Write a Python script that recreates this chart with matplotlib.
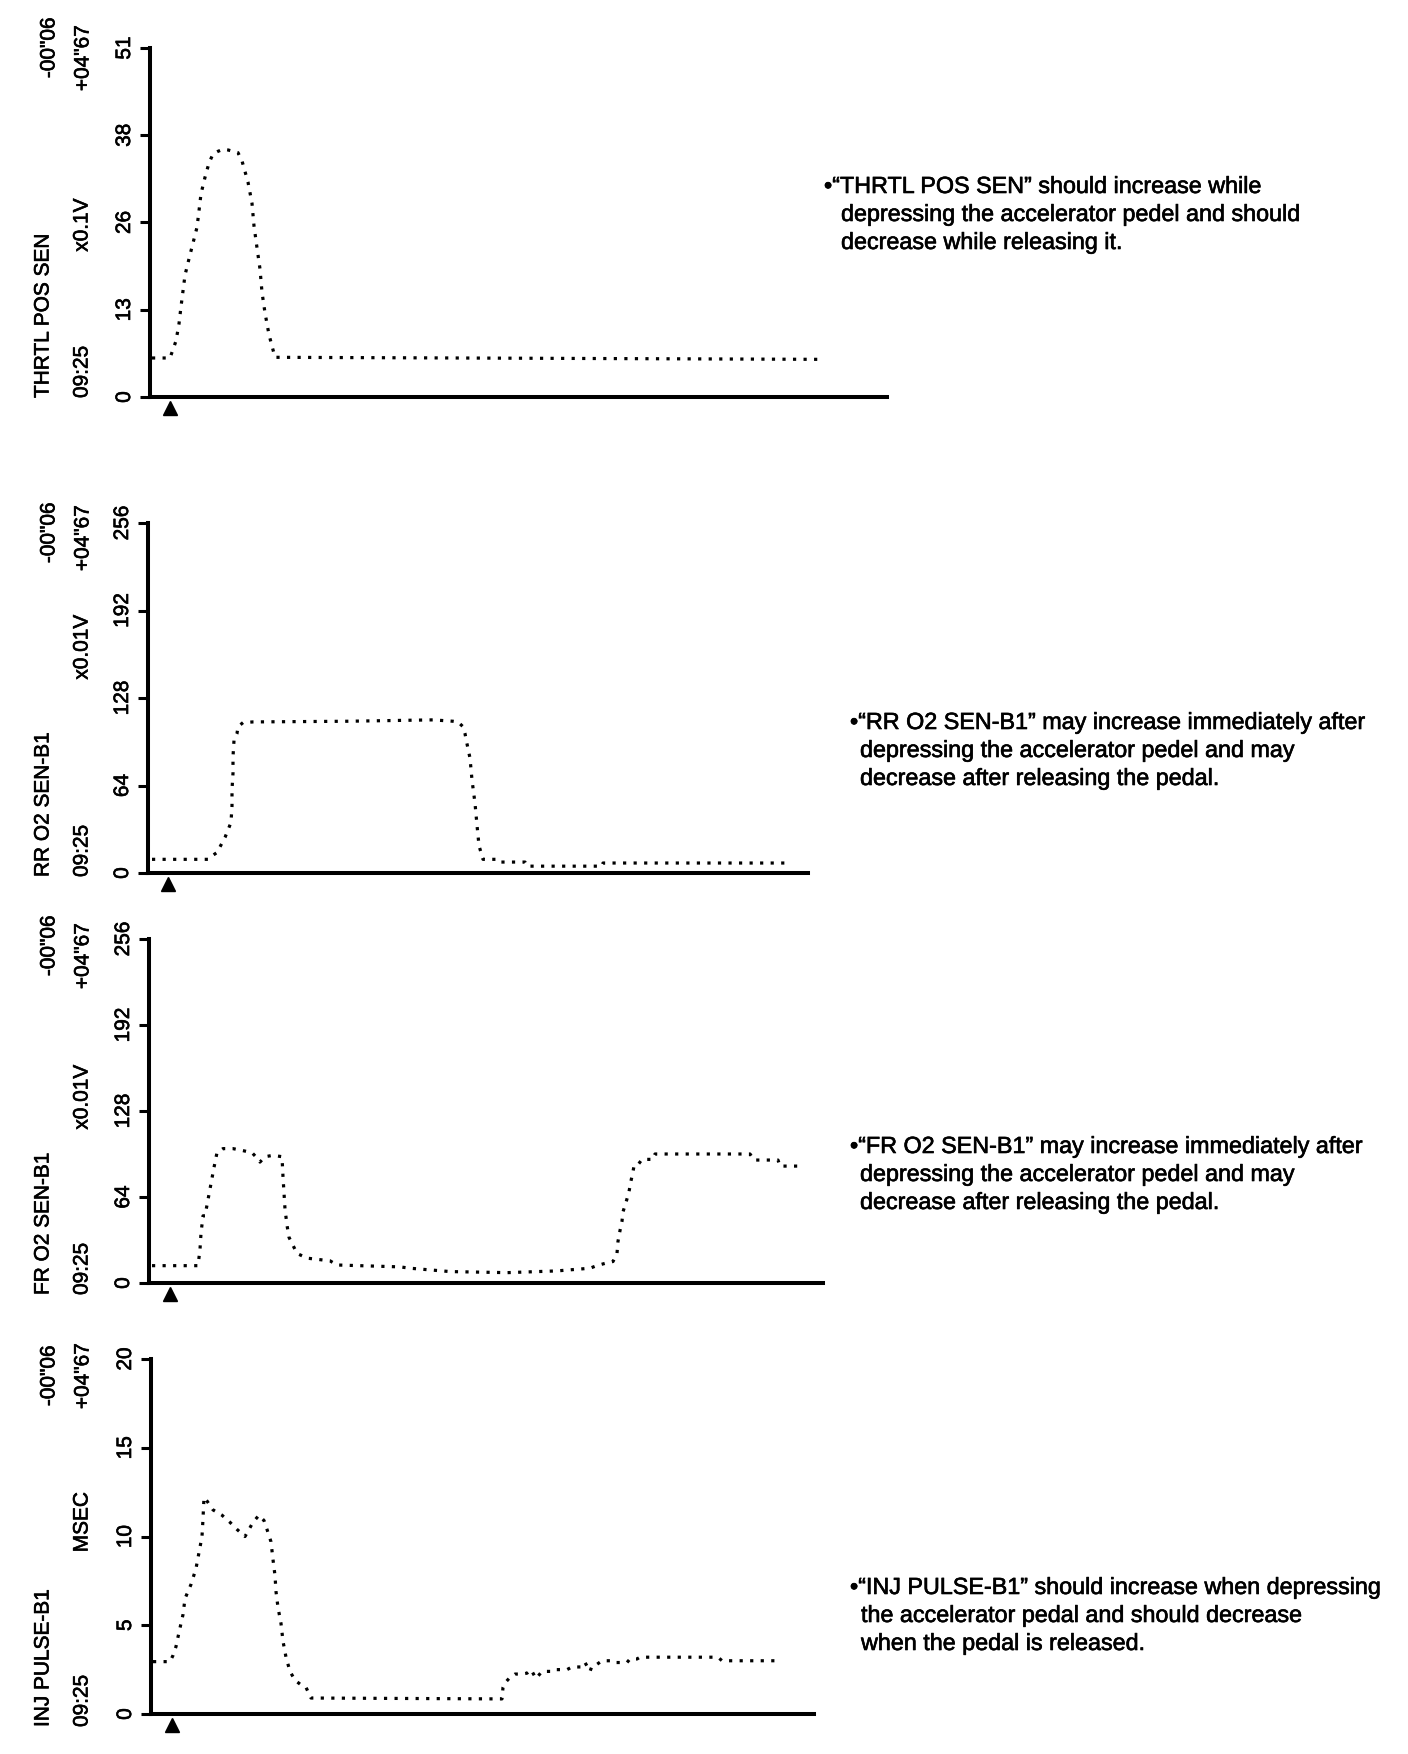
import matplotlib
matplotlib.use('Agg')
from matplotlib import pyplot as plt
import matplotlib.transforms as mtransforms
import matplotlib.patheffects as pe

plt.rcParams['font.family'] = ['Liberation Sans', 'DejaVu Sans']

# ---- data (time in screen steps, value in the sensor unit) ----
thrtl_t = [2, 20, 26, 29, 31, 33, 35, 39, 43, 47, 49, 51, 55, 59, 63, 68, 73, 78,
           83, 88, 92, 98, 102, 104, 107, 110, 112, 115, 119, 125, 673]
thrtl_v = [5.7, 5.7, 8.2, 10.7, 13.2, 15.5, 17.8, 20.2, 22.5, 24.8, 27.2, 29.7, 32.1,
           34.2, 35.5, 35.9, 36.2, 36.1, 35.9, 35.7, 34.5, 31.4, 28.3, 25.0, 21.8,
           18.7, 15.3, 12.3, 9.1, 5.8, 5.5]

rr_t = [4, 60, 65, 69, 77, 83, 84, 84, 85, 85, 86, 89, 90, 95, 105, 200, 285, 305,
        310, 315, 317, 318, 322, 324, 327, 329, 331, 335, 348, 350, 377, 379, 454,
        455, 637]
rr_v = [10, 10, 13, 15, 26, 37, 49, 61, 73, 85, 97, 102, 107, 110, 110.5, 111, 112,
        111, 110.5, 107, 102, 98, 84, 68, 51, 35, 20, 10, 10, 8, 8, 5, 5, 7.3, 7.3]

fr_t = [3, 49, 51, 52, 54, 56, 59, 62, 65, 68, 74, 84, 94, 103, 108, 111, 116, 124,
        133, 134, 136, 138, 140, 148, 158, 181, 188, 251, 261, 301, 358, 408, 441,
        448, 458, 464, 468, 469, 471, 473, 474, 477, 480, 482, 484, 485, 488, 493,
        504, 506, 601, 605, 629, 631, 649]
fr_v = [12.9, 12.9, 25, 37, 50, 50, 62, 74, 86, 97, 100, 100, 98.5, 97, 93, 90, 94,
        95, 94, 79, 55, 43, 34, 22, 18.5, 16.5, 13.4, 12, 11, 8.5, 7.7, 9, 11, 13,
        15, 16, 22, 31, 39, 46, 53, 60, 68, 76, 83, 87, 87, 92, 92, 96, 96, 91.5,
        91.5, 87, 87]

inj_t = [2, 19, 22, 25, 28, 32, 34, 40, 45, 48, 51, 52, 53, 56, 62, 71, 79, 86, 94,
         97, 102, 108, 113, 116, 120, 122, 124, 125, 127, 130, 132, 135, 139, 144,
         151, 155, 160, 351, 352, 354, 358, 364, 371, 376, 380, 382, 385, 391, 402,
         404, 416, 421, 431, 434, 436, 439, 441, 446, 451, 462, 464, 476, 479, 486,
         489, 567, 571, 628]
inj_v = [2.95, 2.95, 3.3, 3.8, 4.6, 5.6, 6.5, 7.3, 8.2, 9.1, 10.0, 11.0, 12.2, 12.0,
         11.5, 11.2, 10.8, 10.4, 10.0, 10.3, 10.8, 11.2, 10.9, 10.4, 9.7, 8.7, 7.8,
         6.9, 6.0, 5.1, 4.1, 3.2, 2.4, 1.9, 1.6, 1.5, 0.9, 0.85, 1.5, 1.75, 2.0, 2.25,
         2.25, 2.3, 2.5, 2.3, 2.0, 2.4, 2.4, 2.5, 2.5, 2.65, 2.65, 2.9, 2.7, 2.4, 2.7,
         2.8, 3.0, 3.0, 2.9, 2.9, 3.1, 3.1, 3.2, 3.2, 3.0, 3.0]

names = ['THRTL POS SEN', 'RR O2 SEN-B1', 'FR O2 SEN-B1', 'INJ PULSE-B1']
units = ['x0.1V', 'x0.01V', 'x0.01V', 'MSEC']
series_t = [thrtl_t, rr_t, fr_t, inj_t]
series_v = [thrtl_v, rr_v, fr_v, inj_v]
y_max = [51, 256, 256, 20]
tick_labels = [['0', '13', '26', '38', '51'],
               ['0', '64', '128', '192', '256'],
               ['0', '64', '128', '192', '256'],
               ['0', '5', '10', '15', '20']]
x_span = [737, 660, 674, 663]
trigger_t = [20, 20, 21, 21]
time_start = '09:25'
time_min = '-00"06'
time_max = '+04"67'

notes = [
    ['\u2022\u201cTHRTL POS SEN\u201d should increase while',
     'depressing the accelerator pedel and should',
     'decrease while releasing it.'],
    ['\u2022\u201cRR O2 SEN-B1\u201d may increase immediately after',
     'depressing the accelerator pedel and may',
     'decrease after releasing the pedal.'],
    ['\u2022\u201cFR O2 SEN-B1\u201d may increase immediately after',
     'depressing the accelerator pedel and may',
     'decrease after releasing the pedal.'],
    ['\u2022\u201cINJ PULSE-B1\u201d should increase when depressing',
     'the accelerator pedal and should decrease',
     'when the pedal is released.'],
]

# ---- layout (reference pixels) ----
W, H = 1408, 1754
boxes = [(150, 48, 397), (148, 523, 873), (149, 939, 1283), (151, 1359, 1714)]  # left, top, bottom
top_lbl_y = [(17, 25), (502, 505), (915, 923), (1345, 1343)]
unit_y = [225, 647, 1097, 1522]
bottom_lbl_y = [398, 877, 1295, 1727]
note_xy = [(824, 186), (850, 722), (850, 1146), (850, 1587)]
note_indent = [17, 10, 10, 11]

fs = 15
note_fs = 16.8
ink = [pe.withStroke(linewidth=0.45, foreground='black')]


def fx(px):
    return px / W


def fy(py):
    return 1 - py / H


def label(x, y, s, **kw):
    fig.text(fx(x), fy(y), s, rotation=90, ha='center', fontsize=fs,
             path_effects=ink, **kw)


fig = plt.figure(figsize=(W / 100, H / 100), dpi=100)

for i in range(4):
    left, top, bottom = boxes[i]
    ax = fig.add_axes([fx(left), fy(bottom), x_span[i] / W, (bottom - top) / H])
    ax.plot(series_t[i], series_v[i], color='black', lw=2.3,
            linestyle=(0, (1, 2.3)), dash_capstyle='butt')
    ax.set_xlim(0, x_span[i])
    ax.set_ylim(0, y_max[i])
    ax.set_yticks([y_max[i] * k / 4 for k in range(5)])
    ax.set_yticklabels(tick_labels[i])
    for lab in ax.get_yticklabels():
        lab.set_rotation(90)
        lab.set_va('center')
        lab.set_path_effects(ink)
    ax.tick_params(axis='y', direction='out', length=7.5, width=2.2, pad=4,
                   labelsize=fs, colors='black')
    ax.tick_params(axis='x', bottom=False, labelbottom=False)
    for s in ['top', 'right']:
        ax.spines[s].set_visible(False)
    for s in ['left', 'bottom']:
        ax.spines[s].set_linewidth(2.9)
        ax.spines[s].set_color('black')

    # trigger marker under the time axis
    trans = mtransforms.blended_transform_factory(ax.transData, ax.transAxes)
    ax.plot([trigger_t[i]], [-11 / (bottom - top)], marker='^', ms=10,
            color='black', transform=trans, clip_on=False)

    # rotated labels left of the axis
    label(43, bottom_lbl_y[i], names[i], va='bottom')
    label(49, top_lbl_y[i][0], time_min, va='top')
    label(82, bottom_lbl_y[i], time_start, va='bottom')
    label(83, top_lbl_y[i][1], time_max, va='top')
    label(82, unit_y[i], units[i], va='center')

    # explanatory note
    nx, ny = note_xy[i]
    for j, line in enumerate(notes[i]):
        x = nx if j == 0 else nx + note_indent[i]
        fig.text(fx(x), fy(ny + 7 + 28 * j), line, ha='left', va='baseline',
                 fontsize=note_fs, path_effects=ink)

fig.savefig('out.png', dpi=100, facecolor='white')
